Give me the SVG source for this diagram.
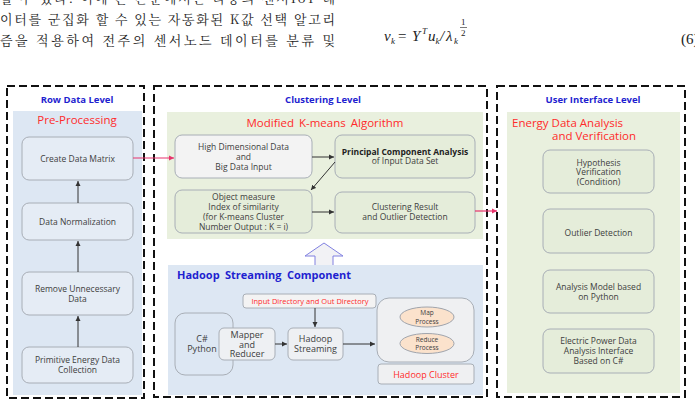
<svg xmlns="http://www.w3.org/2000/svg" width="695" height="400" viewBox="0 0 695 400">
<defs>
<marker id="ah" markerWidth="6" markerHeight="6" refX="5" refY="3" orient="auto" markerUnits="userSpaceOnUse"><path d="M0,0.5 L5,3 L0,5.5 Z" fill="#333"/></marker>
<marker id="ahp" markerWidth="6" markerHeight="6" refX="5" refY="3" orient="auto" markerUnits="userSpaceOnUse"><path d="M0,0.5 L5,3 L0,5.5 Z" fill="#e8336c"/></marker>
</defs>
<style>
.dash{fill:none;stroke:#111;stroke-width:2;stroke-dasharray:8,4}
.pb{fill:#dde7f3}
.pg{fill:#e9f0de}
.box{stroke:#a8aeb6;stroke-width:1}
.bb{fill:#e5ecf5}
.bg{fill:#e5edda}
.bw{fill:#f3f3f3}
.t{font-family:"Open Sans","Noto Sans",sans-serif;font-size:8.5px;fill:#404040;text-anchor:middle}
.th{font-family:"Open Sans","Noto Sans",sans-serif;font-size:9px;fill:#404040;text-anchor:middle}
.tp{font-family:"Open Sans","Noto Sans",sans-serif;font-size:6.5px;fill:#404040;text-anchor:middle}
.lvl{font-family:"Open Sans","Noto Sans",sans-serif;font-weight:bold;font-size:9.5px;fill:#1f1fd0;text-anchor:middle}
.red{font-family:"Open Sans","Noto Sans",sans-serif;fill:#ff2b2b;font-size:11.5px}
.rs{font-family:"Open Sans","Noto Sans",sans-serif;fill:#ff2b2b;text-anchor:middle}
.kr{font-family:"Noto Serif CJK KR","Noto Sans CJK KR",serif;font-size:13px;fill:#222}
.m{font-family:"Liberation Serif",serif;font-style:italic;font-size:15px;fill:#222}
.ms{font-family:"Liberation Serif",serif;font-style:italic;font-size:9px;fill:#222}
.mn{font-family:"Liberation Serif",serif;font-size:9px;fill:#222}
.c{fill:none;stroke:#333;stroke-width:1;marker-end:url(#ah)}
.pk{fill:none;stroke:#e8336c;stroke-width:1.2;marker-end:url(#ahp)}
</style>

<g id="page-text">
<text class="kr" x="0" y="3" textLength="335" lengthAdjust="spacing">할 수 있다. 이에 본 논문에서는 다중의 센서IoT 데</text>
<text class="kr" x="0" y="24" textLength="335" lengthAdjust="spacing">이터를 군집화 할 수 있는 자동화된 K값 선택 알고리</text>
<text class="kr" x="0" y="45" textLength="335" lengthAdjust="spacing">즘을 적용하여 전주의 센서노드 데이터를 분류 및</text>
</g>
<g id="equation">
<text class="m" x="384" y="41">v</text>
<text class="ms" x="391" y="44">k</text>
<text class="m" x="398" y="41" style="font-style:normal">=</text>
<text class="m" x="412" y="41">Y</text>
<text class="ms" x="422" y="34">T</text>
<text class="m" x="428" y="41">u</text>
<text class="ms" x="435.5" y="44">k</text>
<text class="m" x="440" y="41">/</text>
<text class="m" x="446" y="41">λ</text>
<text class="ms" x="454" y="44">k</text>
<text class="mn" x="461" y="25">1</text>
<line x1="460" y1="27.5" x2="467" y2="27.5" stroke="#222" stroke-width="0.6"/>
<text class="mn" x="461" y="36">2</text>
<text class="m" x="681" y="44" style="font-style:normal">(6)</text>
</g>

<g id="row-data-level">
<rect class="dash" x="7" y="86" width="137" height="312"/>
<text class="lvl" x="77" y="103">Row Data Level</text>
</g>
<g id="pre-processing">
<rect class="pb" x="13" y="111" width="129" height="284"/>
<text class="red" x="77" y="124" text-anchor="middle">Pre-Processing</text>
</g>
<g id="create-data-matrix">
<rect class="box bb" x="22" y="137" width="111" height="43" rx="7"/>
<text class="t" x="77.5" y="162">Create Data Matrix</text>
</g>
<g id="data-normalization">
<rect class="box bb" x="22" y="203" width="111" height="37" rx="7"/>
<text class="t" x="77.5" y="225">Data Normalization</text>
</g>
<g id="remove-unnecessary-data">
<rect class="box bb" x="22" y="272" width="111" height="43" rx="7"/>
<text class="t" x="77.5" y="292">Remove Unnecessary</text>
<text class="t" x="77.5" y="302">Data</text>
</g>
<g id="primitive-energy-data">
<rect class="box bb" x="22" y="347" width="111" height="36" rx="7"/>
<text class="t" x="77.5" y="363">Primitive Energy Data</text>
<text class="t" x="77.5" y="373">Collection</text>
</g>

<g id="clustering-level">
<rect class="dash" x="154" y="86" width="333" height="311"/>
<text class="lvl" x="323" y="103">Clustering Level</text>
</g>
<g id="modified-kmeans">
<rect class="pg" x="167" y="112" width="316" height="127"/>
<text class="red" x="325" y="127" text-anchor="middle" word-spacing="2">Modified K-means Algorithm</text>
</g>
<g id="high-dimensional-data">
<rect class="box bw" x="175" y="135" width="137" height="43" rx="7"/>
<text class="t" x="243.5" y="150">High Dimensional Data</text>
<text class="t" x="243.5" y="160">and</text>
<text class="t" x="243.5" y="170">Big Data Input</text>
</g>
<g id="pca">
<rect class="box bg" x="335" y="135" width="140" height="43" rx="7"/>
<text class="t" x="405" y="155" font-weight="bold" style="fill:#222">Principal Component Analysis</text>
<text class="t" x="405" y="164">of Input Data Set</text>
</g>
<g id="object-measure">
<rect class="box bg" x="175" y="190" width="137" height="43" rx="7"/>
<text class="t" x="243.5" y="200">Object measure</text>
<text class="t" x="243.5" y="210">Index of similarity</text>
<text class="t" x="243.5" y="220">(for K-means Cluster</text>
<text class="t" x="243.5" y="230">Number Output : K = i)</text>
</g>
<g id="clustering-result">
<rect class="box bg" x="335" y="192" width="140" height="41" rx="7"/>
<text class="t" x="405" y="210">Clustering Result</text>
<text class="t" x="405" y="220">and Outlier Detection</text>
</g>

<g id="up-arrow">
<path d="M305,256 L324,243 L343,256 L333,256 L333,266 L315,266 L315,256 Z" fill="#f2f2f5" stroke="#8080e0" stroke-width="1"/>
</g>

<g id="hadoop-streaming-component">
<rect class="pb" x="168" y="265" width="315" height="130"/>
<text x="177" y="279" font-family="'Open Sans','Noto Sans',sans-serif" font-weight="bold" font-size="11px" fill="#1f1fd0" word-spacing="2.5">Hadoop Streaming Component</text>
</g>
<g id="input-output-directory">
<rect class="box bw" x="243" y="294" width="133" height="14" rx="3"/>
<text class="rs" x="310" y="304" font-size="7.5px">Input Directory and Out Directory</text>
</g>
<g id="csharp-python">
<rect class="box pb" x="175" y="313" width="58" height="62" rx="10"/>
<text class="th" x="202" y="342">C#</text>
<text class="th" x="202" y="352">Python</text>
</g>
<g id="mapper-reducer">
<rect class="box" fill="#eef0f3" x="219" y="328" width="56" height="32" rx="5"/>
<text class="th" x="247" y="338">Mapper</text>
<text class="th" x="247" y="347.5">and</text>
<text class="th" x="247" y="357">Reducer</text>
</g>
<g id="hadoop-streaming">
<rect class="box" fill="#eef0f3" x="288" y="328" width="55" height="32" rx="5"/>
<text class="th" x="315.5" y="342">Hadoop</text>
<text class="th" x="315.5" y="352">Streaming</text>
</g>
<g id="hadoop-cluster-body">
<rect class="box" fill="#eff0f2" x="377" y="298" width="97" height="64" rx="12"/>
</g>
<g id="map-process">
<ellipse cx="427" cy="317" rx="27" ry="10" fill="#fbe2cc" stroke="#a0a4ac"/>
<text class="tp" x="427" y="315">Map</text>
<text class="tp" x="427" y="323.5">Process</text>
</g>
<g id="reduce-process">
<ellipse cx="427" cy="343.5" rx="27" ry="10" fill="#fbe2cc" stroke="#a0a4ac"/>
<text class="tp" x="427" y="341.5">Reduce</text>
<text class="tp" x="427" y="350">Process</text>
</g>
<g id="hadoop-cluster">
<rect class="box" fill="#eff0f2" x="378" y="364" width="96" height="20" rx="3"/>
<text class="rs" x="426" y="377.5" font-size="9px">Hadoop Cluster</text>
</g>

<g id="user-interface-level">
<rect class="dash" x="497" y="86" width="188" height="311"/>
<text class="lvl" x="593" y="103">User Interface Level</text>
</g>
<g id="energy-data-analysis">
<rect class="pg" x="507" y="112" width="173" height="281"/>
<text class="red" x="512" y="127">Energy Data Analysis</text>
<text class="red" x="552" y="140">and Verification</text>
</g>
<g id="hypothesis-verification">
<rect class="box bg" x="543" y="150" width="111" height="43" rx="7"/>
<text class="t" x="598.5" y="166">Hypothesis</text>
<text class="t" x="598.5" y="175">Verification</text>
<text class="t" x="598.5" y="185">(Condition)</text>
</g>
<g id="outlier-detection">
<rect class="box bg" x="543" y="209" width="111" height="44" rx="7"/>
<text class="t" x="598.5" y="236">Outlier Detection</text>
</g>
<g id="analysis-model">
<rect class="box bg" x="543" y="270" width="111" height="43" rx="7"/>
<text class="t" x="598.5" y="290">Analysis Model based</text>
<text class="t" x="598.5" y="300">on Python</text>
</g>
<g id="electric-power-interface">
<rect class="box bg" x="543" y="329" width="111" height="44" rx="7"/>
<text class="t" x="598.5" y="344">Electric Power Data</text>
<text class="t" x="598.5" y="354">Analysis Interface</text>
<text class="t" x="598.5" y="364">Based on C#</text>
</g>

<g id="connectors">
<path class="c" d="M78,203 V181"/>
<path class="c" d="M78,272 V241"/>
<path class="c" d="M78,347 V316"/>
<path class="pk" d="M133,158 H174"/>
<path class="c" d="M312,157 H334"/>
<path class="c" d="M335,162 L311,190"/>
<path class="c" d="M312,212 H334"/>
<path class="pk" d="M475,211 H497"/>
<path class="c" d="M275,344 H287"/>
<path class="c" d="M315,308 V327"/>
<path class="c" d="M343,344 H375"/>
</g>
</svg>
